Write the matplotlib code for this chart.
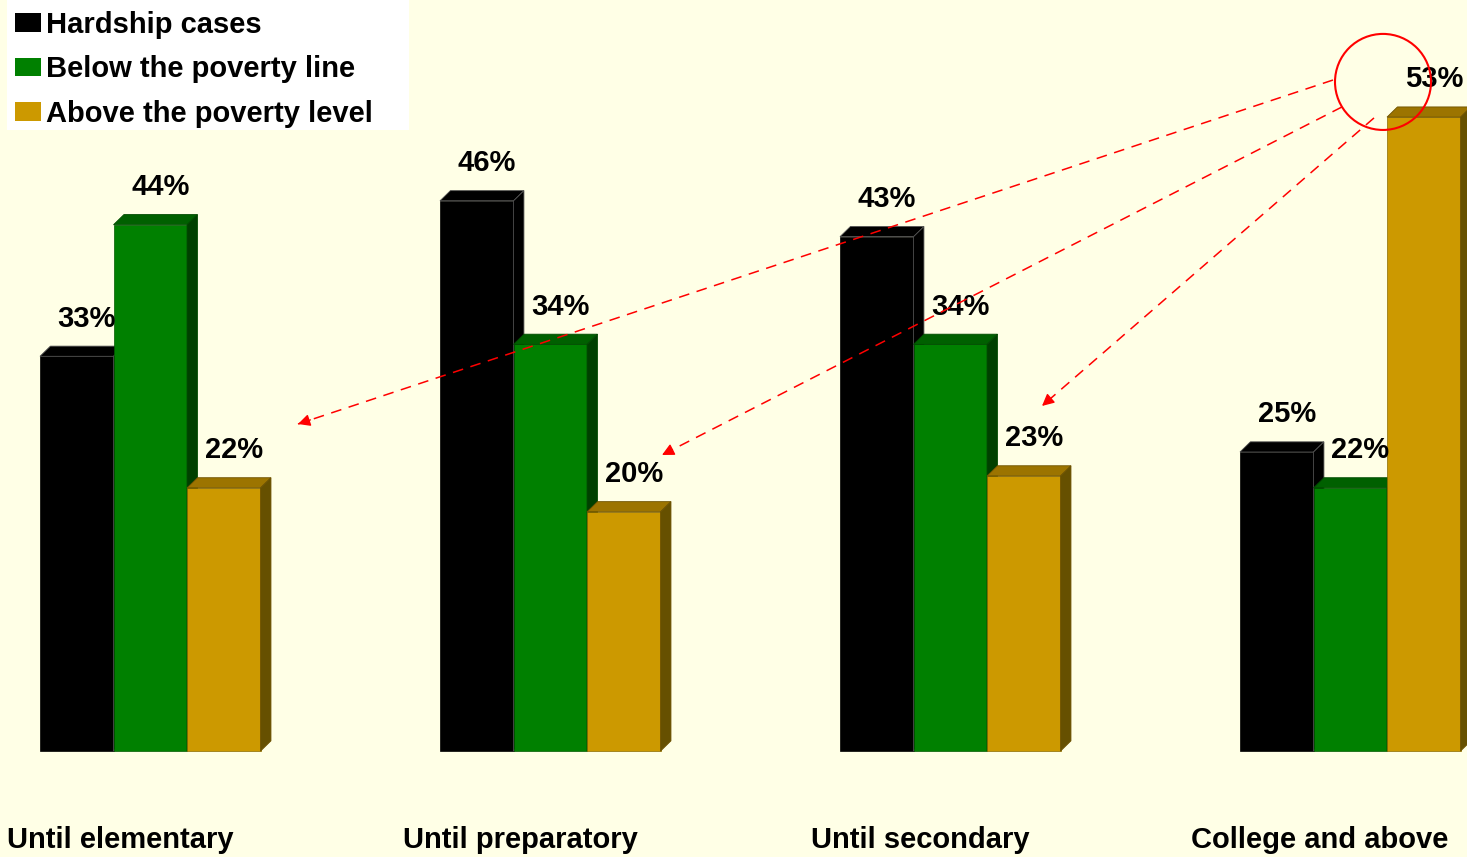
import matplotlib
matplotlib.use("Agg")
import matplotlib.pyplot as plt
from matplotlib.patches import Polygon, Ellipse, Patch, Rectangle

# ---- data ----
categories = ["Until elementary", "Until preparatory", "Until secondary", "College and above"]
series_names = ["Hardship cases", "Below the poverty line", "Above the poverty level"]
hardship = [33, 46, 43, 25]
below_poverty = [44, 34, 34, 22]
above_poverty = [22, 20, 23, 53]

front_colors = ["#000000", "#008000", "#CC9900"]
top_colors = ["#000000", "#006000", "#9C7400"]
side_colors = ["#000000", "#004000", "#665000"]
front_edges = ["#000000", "#005A00", "#8A6A00"]
edge_colors = ["#505050", "#004A00", "#6E5200"]
bg = "#FFFFE6"

plt.rcParams['font.family'] = ['Liberation Sans', 'DejaVu Sans']
fs = 21

fig = plt.figure(figsize=(14.67, 8.57), dpi=100, facecolor=bg)
ax = fig.add_axes([0, 0, 1, 1])
ax.set_facecolor(bg)
ax.set_xlim(-0.1, 3.5675)
ax.set_ylim(-8.86, 62.79)
ax.axis("off")

w = 0.1838
dx = 0.026
dy = 0.85

series = [hardship, below_poverty, above_poverty]
z = 2
for i in range(len(categories)):
    for j, vals in enumerate(series):
        v = vals[i]
        x0 = i + j * w
        x1 = x0 + w
        ax.bar(x0, v, width=w, align="edge", color=front_colors[j],
               edgecolor=front_edges[j], linewidth=0.5, zorder=z)
        top = Polygon([(x0, v), (x0 + dx, v + dy), (x1 + dx, v + dy), (x1, v)],
                      closed=True, facecolor=top_colors[j],
                      edgecolor=edge_colors[j], linewidth=0.6, zorder=z)
        side = Polygon([(x1, 0), (x1 + dx, dy), (x1 + dx, v + dy), (x1, v)],
                       closed=True, facecolor=side_colors[j],
                       edgecolor=edge_colors[j], linewidth=0.6, zorder=z)
        ax.add_patch(top)
        ax.add_patch(side)
        ax.text(x0 + w / 2 + 0.025, v + 3.15, f"{v}%", ha="center", va="center",
                fontsize=fs, fontweight="bold", color="black", zorder=20)
        z += 1
    ax.text(i + 0.2, -7.45, categories[i], ha="center", va="center",
            fontsize=fs, fontweight="bold", color="black")

# ---- annotation: circle and dashed arrows ----
ax.add_patch(Ellipse((3.3575, 55.94), 0.24, 8.03, fill=False, edgecolor="red",
                     linewidth=1.5, zorder=30))
arrows = [((3.2325, 56.1), (0.645, 27.34)),
          ((3.255, 53.85), (1.555, 24.75)),
          ((3.335, 52.93), (2.505, 28.85))]
for (sx, sy), (ex, ey) in arrows:
    ax.plot([sx, ex], [sy, ey], color="red", linewidth=1.1, linestyle=(0, (7, 5)), zorder=30)
    ax.annotate("", xy=(ex, ey), xytext=(ex + (sx - ex) * 0.012, ey + (sy - ey) * 0.012),
                arrowprops=dict(arrowstyle="-|>", color="red", lw=1, mutation_scale=18,
                                shrinkA=0, shrinkB=0), zorder=31)

# ---- legend ----
ax.add_patch(Rectangle((7 / 1467, 1 - 130 / 857), 402 / 1467, 130 / 857,
                       transform=ax.transAxes, facecolor="white", edgecolor="none", zorder=39))
handles = [Patch(facecolor=c, edgecolor="none") for c in front_colors]
leg = ax.legend(handles, series_names, loc="upper left", bbox_to_anchor=(15 / 1467, 1 - 11 / 857),
                prop={'weight': 'bold', 'size': fs, 'family': ['Liberation Sans', 'DejaVu Sans']},
                frameon=False, handlelength=0.9, handleheight=0.6, handletextpad=0.17,
                labelspacing=0.56, borderpad=0, borderaxespad=0)
leg.set_zorder(40)

fig.savefig("out.png", dpi=100, facecolor=bg)
